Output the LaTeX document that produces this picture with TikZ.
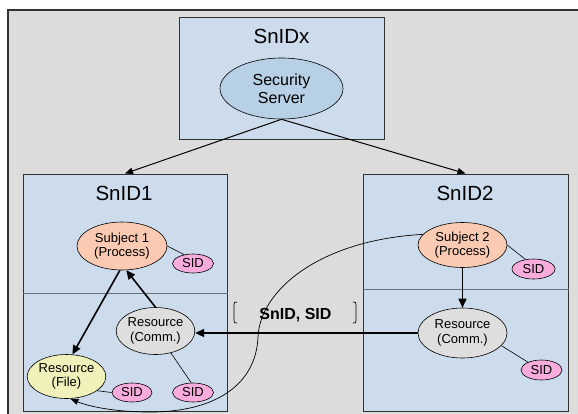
\documentclass[tikz,border=0pt]{standalone}
\usepackage{fontspec}
\setmainfont{Liberation Sans}
\usetikzlibrary{shapes.geometric,arrows.meta,calc}

\definecolor{canvasgray}{RGB}{220,220,220}
\definecolor{framegray}{RGB}{50,50,50}
\definecolor{zoneblue}{RGB}{204,220,236}
\definecolor{serverblue}{RGB}{184,208,230}
\definecolor{dividerblue}{RGB}{100,112,128}
\definecolor{subjectorange}{RGB}{250,202,178}
\definecolor{commgray}{RGB}{222,222,222}
\definecolor{fileyellow}{RGB}{240,240,186}
\definecolor{sidpink}{RGB}{248,172,220}

\pgfdeclarelayer{bg}
\pgfdeclarelayer{edges}
\pgfsetlayers{bg,edges,main}

\newcommand\setfs[2]{\fontsize{#1}{#2}\selectfont}

\begin{document}
\begin{tikzpicture}[x=1pt, y=-1pt,
  zonebox/.style={rectangle, draw=framegray, line width=1pt, fill=zoneblue, inner sep=0},
  ovalnode/.style={ellipse, draw=black, line width=0.6pt, inner sep=0, align=center,
                   font=\setfs{13}{14.5}},
  sidnode/.style={ovalnode, fill=sidpink, minimum width=41pt, minimum height=19pt},
  headtext/.style={anchor=base, inner sep=0, font=\setfs{20.5}{24}},
  sidlink/.style={line width=0.6pt},
  thickflow/.style={line width=1.6pt, -{Triangle[length=9pt,width=8pt]}},
  thinflow/.style={line width=1pt, -{Triangle[length=8pt,width=6.5pt]}},
  looparc/.style={line width=0.7pt, -{Triangle[length=8pt,width=6pt]}}]

\useasboundingbox (0,0) rectangle (578,413);

% canvas and the three security domains
\begin{pgfonlayer}{bg}
  \clip (0,0) rectangle (578,413);
  \draw[fill=canvasgray, draw=framegray, line width=1.2pt] (8,10) rectangle (600,440);
  \node[zonebox, minimum width=205pt, minimum height=122pt] (snidx) at (281.5,78) {};
  \node[zonebox, minimum width=204pt, minimum height=237pt] (snid1) at (125,292.5) {};
  \node[zonebox, minimum width=205pt, minimum height=237pt] (snid2) at (465.5,292.5) {};
  \draw[dividerblue, line width=0.9pt] (snid1.west |- 0,293) -- (snid1.east |- 0,293);
  \draw[dividerblue, line width=0.9pt] (snid2.west |- 0,289) -- (snid2.east |- 0,289);
\end{pgfonlayer}

% domain titles
\node[headtext] (tx) at (281.5,43) {SnIDx};
\node[headtext] (t1) at (124,200.7) {SnID1};
\node[headtext] (t2) at (465,200.7) {SnID2};

% security server
\node[ovalnode, fill=serverblue, minimum width=123pt, minimum height=61pt,
      font=\setfs{16}{18}] (server) at (281.5,88.5) {Security\\Server};

% domain 1
\node[ovalnode, fill=subjectorange, minimum width=90pt, minimum height=48pt] (subj1) at (122,246) {Subject 1\\(Process)};
\node[sidnode] (sid1a) at (193,263.5) {SID};
\node[ovalnode, fill=commgray, minimum width=75pt, minimum height=47pt] (comm1) at (155.5,331) {Resource\\(Comm.)};
\node[sidnode] (sid1b) at (193,392.5) {SID};
\node[ovalnode, fill=fileyellow, minimum width=74pt, minimum height=44pt] (file) at (66.5,376.5) {Resource\\(File)};
\node[sidnode, minimum width=40pt] (sid1c) at (132,392.5) {SID};

% domain 2
\node[ovalnode, fill=subjectorange, minimum width=89pt, minimum height=45pt] (subj2) at (462.5,245) {Subject 2\\(Process)};
\node[sidnode, minimum width=43pt, minimum height=20pt] (sid2a) at (533.5,269) {SID};
\node[ovalnode, fill=commgray, minimum width=89pt, minimum height=50pt] (comm2) at (462.5,333) {Resource\\(Comm.)};
\node[sidnode, minimum height=20pt] (sid2b) at (541.5,370) {SID};

% label carried by the inter-domain message
\node[anchor=base, inner sep=0, font=\bfseries\setfs{16}{19}] (tag) at (295.5,319.3) {SnID, SID};
\draw[line width=0.7pt] (237,302) .. controls (234,302) .. (234,305) -- (234,320)
      .. controls (234,323) .. (237,323);
\draw[line width=0.7pt] (353,302) .. controls (356,302) .. (356,305) -- (356,320)
      .. controls (356,323) .. (353,323);

\begin{pgfonlayer}{edges}
  % server to domains
  \draw[thinflow] (server.south) -- (snid1.north);
  \draw[thinflow] (server.south) -- (snid2.north);
  % SID attachments
  \draw[sidlink] (subj1.east) -- (sid1a.135);
  \draw[sidlink] (comm1.-55) -- (sid1b.100);
  \draw[sidlink] (file.-25) -- (sid1c.west);
  \draw[sidlink] (subj2.east) -- (sid2a.130);
  \draw[sidlink] (comm2.-18) -- (sid2b.150);
  % information flows
  \draw[thickflow] (subj1.-95) -- (file.75);
  \draw[thickflow] (comm1.north) -- (subj1.-80);
  \draw[thickflow] (subj2.south) -- (comm2.north);
  \draw[thickflow] (comm2.west) -- (comm2.west -| comm1.east);
  \draw[looparc] (subj2.165) .. controls (320,240) and (260,290) .. (258,337)
        .. controls (256,385) and (215,412) .. (150,412)
        .. controls (110,412) and (85,405) .. (file.-80);
\end{pgfonlayer}

\end{tikzpicture}
\end{document}
